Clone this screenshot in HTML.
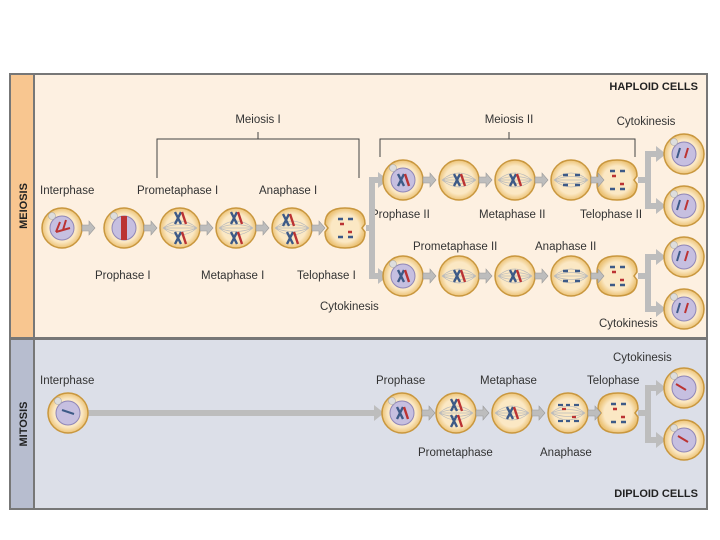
<!DOCTYPE html>
<html><head><style>
html,body{margin:0;padding:0;background:#fff;width:720px;height:540px;overflow:hidden}
svg{display:block;font-family:"Liberation Sans",sans-serif}
</style></head><body>
<svg width="720" height="540" viewBox="0 0 720 540">
<defs>
<radialGradient id="cg" cx="50%" cy="50%" r="50%"><stop offset="0.7" stop-color="#fbe8c4"/><stop offset="1" stop-color="#ecc377"/></radialGradient>
<g id="cell"><circle r="20" fill="url(#cg)" stroke="#c9973e" stroke-width="1.5"/></g>
<g id="nuc"><circle r="20" fill="url(#cg)" stroke="#c9973e" stroke-width="1.5"/><circle r="12" fill="#c6bfe0" stroke="#8f86b8" stroke-width="1"/><circle cx="-10" cy="-12" r="3.5" fill="#ddd" stroke="#aaa" stroke-width=".6"/></g>
<g id="spin"><circle r="20" fill="url(#cg)" stroke="#c9973e" stroke-width="1.5"/><path d="M-17 0Q0 -14 17 0M-17 0Q0 14 17 0M-17 0Q0 -7 17 0M-17 0Q0 7 17 0M-17 0H17" stroke="#bbb" fill="none" stroke-width=".7"/></g>
<g id="arr"><path d="M0 -3H7V-7L13 0L7 7V3H0Z" fill="#bdbdbd" stroke="#999" stroke-width=".6"/></g>
<g id="chr"><path d="M-3 -6L3 6M3 -6L-3 6" stroke="#3d5a87" stroke-width="2.4"/><path d="M4 -6L8 6" stroke="#b33" stroke-width="2.4"/></g>
<g id="tel"><path d="M-20 -4Q-20 -20 0 -20Q20 -20 20 -4L17 0L20 4Q20 20 0 20Q-20 20 -20 4L-17 0Z" fill="url(#cg)" stroke="#c9973e" stroke-width="1.5"/><path d="M-7 -9h5M3 -9h5M-7 9h5M3 9h5" stroke="#3d5a87" stroke-width="2.4"/><path d="M-5 -4h4M3 4h4" stroke="#b33" stroke-width="2.4"/></g>
</defs>
<rect x="9" y="73" width="699" height="437" fill="#777"/>
<rect x="11" y="75" width="22" height="262" fill="#f8c690"/>
<rect x="35" y="75" width="671" height="262" fill="#fdf0e1"/>
<rect x="11" y="340" width="22" height="168" fill="#b7bdcf"/>
<rect x="35" y="340" width="671" height="168" fill="#dcdfe8"/>
<text transform="translate(27,206) rotate(-90)" text-anchor="middle" font-size="11" font-weight="bold" fill="#222">MEIOSIS</text>
<text transform="translate(27,424) rotate(-90)" text-anchor="middle" font-size="11" font-weight="bold" fill="#222">MITOSIS</text>
<g font-size="11.5" fill="#333">
<text x="698" y="90" text-anchor="end" font-weight="bold" font-size="11" fill="#222">HAPLOID CELLS</text>
<text x="698" y="497" text-anchor="end" font-weight="bold" font-size="11" fill="#222">DIPLOID CELLS</text>
<text x="258" y="123" text-anchor="middle">Meiosis I</text>
<text x="509" y="123" text-anchor="middle">Meiosis II</text>
<text x="646" y="125" text-anchor="middle">Cytokinesis</text>
<text x="40" y="194">Interphase</text>
<text x="137" y="194">Prometaphase I</text>
<text x="259" y="194">Anaphase I</text>
<text x="95" y="279">Prophase I</text>
<text x="201" y="279">Metaphase I</text>
<text x="297" y="279">Telophase I</text>
<text x="320" y="310">Cytokinesis</text>
<text x="371" y="218">Prophase II</text>
<text x="479" y="218">Metaphase II</text>
<text x="580" y="218">Telophase II</text>
<text x="413" y="250">Prometaphase II</text>
<text x="535" y="250">Anaphase II</text>
<text x="599" y="327">Cytokinesis</text>
<text x="613" y="361">Cytokinesis</text>
<text x="40" y="384">Interphase</text>
<text x="376" y="384">Prophase</text>
<text x="480" y="384">Metaphase</text>
<text x="587" y="384">Telophase</text>
<text x="418" y="456">Prometaphase</text>
<text x="540" y="456">Anaphase</text>
</g>
<path d="M157 178V139H359V178M258 132V139" stroke="#444" fill="none"/>
<path d="M380 157V139H635V157M509 132V139" stroke="#444" fill="none"/>
<g fill="none" stroke="#bdbdbd" stroke-width="6">
<path d="M366 228H372V180H380M372 228V276H380"/>
<path d="M638 180H648V154H658M648 180V206H658"/>
<path d="M638 276H648V257H658M648 276V309H658"/>
<path d="M638 413H648V388H658M648 413V440H658"/>
<path d="M88 413H376"/>
</g>
<g fill="#bdbdbd"><path d="M378 172L388 180L378 188Z"/><path d="M378 268L388 276L378 284Z"/>
<path d="M656 146L666 154L656 162Z"/><path d="M656 198L666 206L656 214Z"/><path d="M656 249L666 257L656 265Z"/><path d="M656 301L666 309L656 317Z"/><path d="M656 380L666 388L656 396Z"/><path d="M656 432L666 440L656 448Z"/><path d="M374 405L384 413L374 421Z"/></g>
<use href="#nuc" x="62" y="228"/><use href="#nuc" x="124" y="228"/>
<use href="#spin" x="180" y="228"/><use href="#spin" x="236" y="228"/><use href="#spin" x="292" y="228"/><use href="#tel" x="345" y="228"/>
<use href="#arr" x="82" y="228"/><use href="#arr" x="144" y="228"/><use href="#arr" x="200" y="228"/><use href="#arr" x="256" y="228"/><use href="#arr" x="312" y="228"/>
<path d="M56 232l14-4M60 222l-4 10M66 220l-3 10" stroke="#b33" stroke-width="2"/><path d="M124 216v24" stroke="#b33" stroke-width="6"/>
<use href="#chr" x="178" y="218"/><use href="#chr" x="178" y="238"/><use href="#chr" x="234" y="218"/><use href="#chr" x="234" y="238"/><use href="#chr" x="286" y="220"/><use href="#chr" x="290" y="238"/>
<g id="r2">
<use href="#nuc" x="403" y="180"/><use href="#spin" x="459" y="180"/><use href="#spin" x="515" y="180"/><use href="#spin" x="571" y="180"/><use href="#tel" x="617" y="180"/>
<use href="#arr" x="423" y="180"/><use href="#arr" x="479" y="180"/><use href="#arr" x="535" y="180"/><use href="#arr" x="591" y="180"/>
<use href="#chr" x="401" y="180"/><use href="#chr" x="457" y="180"/><use href="#chr" x="513" y="180"/>
<path d="M563 175h5M575 175h5M563 185h5M575 185h5" stroke="#3d5a87" stroke-width="2.4"/>
</g>
<use href="#r2" y="96"/>
<use href="#nuc" x="684" y="154"/><use href="#nuc" x="684" y="206"/><use href="#nuc" x="684" y="257"/><use href="#nuc" x="684" y="309"/>
<g stroke="#3d5a87" stroke-width="2"><path d="M680 148l-3 10M680 200l-3 10M680 251l-3 10M680 303l-3 10"/></g>
<g stroke="#b33" stroke-width="2"><path d="M688 148l-3 10M688 200l-3 10M688 251l-3 10M688 303l-3 10"/></g>
<use href="#nuc" x="68" y="413"/>
<use href="#nuc" x="402" y="413"/><use href="#spin" x="456" y="413"/><use href="#spin" x="512" y="413"/><use href="#spin" x="568" y="413"/><use href="#tel" x="618" y="413"/>
<use href="#arr" x="422" y="413"/><use href="#arr" x="476" y="413"/><use href="#arr" x="532" y="413"/><use href="#arr" x="588" y="413"/>
<use href="#chr" x="400" y="413"/><use href="#chr" x="454" y="405"/><use href="#chr" x="454" y="421"/><use href="#chr" x="510" y="413"/>
<path d="M558 405h5M566 405h4M574 405h5M558 421h5M566 421h4M574 421h5" stroke="#3d5a87" stroke-width="2.2"/>
<path d="M562 409h4M572 417h4" stroke="#b33" stroke-width="2.2"/>
<use href="#nuc" x="684" y="388"/><use href="#nuc" x="684" y="440"/>
<path d="M676 384l10 6M678 436l10 6" stroke="#b33" stroke-width="2"/><path d="M62 410l12 4" stroke="#3d5a87" stroke-width="2"/>
</svg>
</body></html>
